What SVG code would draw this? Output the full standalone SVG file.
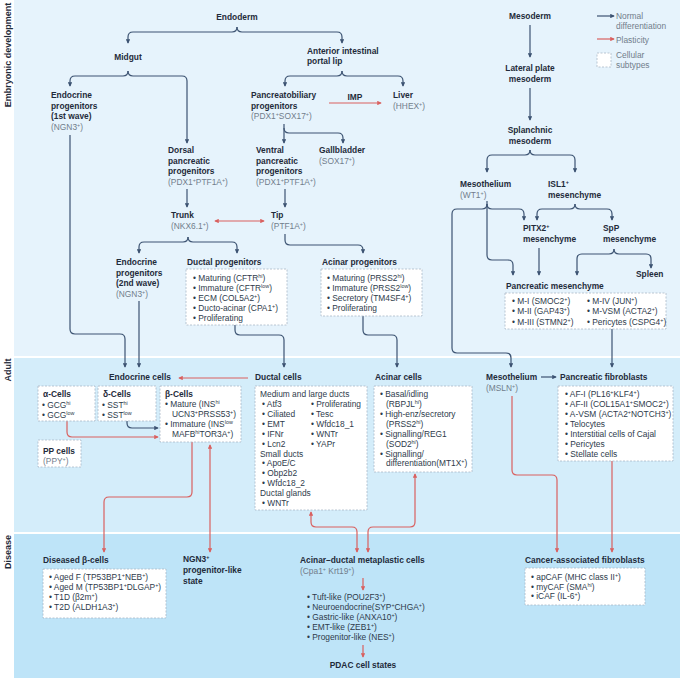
<svg xmlns="http://www.w3.org/2000/svg" width="680" height="678" viewBox="0 0 680 678">
<style>
text{font-family:"Liberation Sans",Arial,sans-serif}
.t{font-weight:700;font-size:8.4px;fill:#1f2b3a}
.g{font-size:8.4px;fill:#717d8b}
.i{font-size:8.4px;fill:#2e3b4b}
.lg{font-size:8.4px;fill:#717d8b}
.sec{font-weight:700;font-size:9px;fill:#1f2b3a;text-anchor:middle}
.sup{font-size:5.4px;baseline-shift:super}
.m{text-anchor:middle}
.c{fill:none;stroke:#3c5372;stroke-width:1.2;marker-end:url(#ad)}
.r{fill:none;stroke:#d9605f;stroke-width:1.2;marker-end:url(#ar)}
.b2{marker-start:url(#ar)}
.box{fill:#fff;stroke:#a9b8c7;stroke-width:0.8;stroke-dasharray:2 1.5}
</style>
<defs>
<marker id="ad" viewBox="0 0 6 6" refX="5" refY="3" markerWidth="4.5" markerHeight="4.5" orient="auto-start-reverse" markerUnits="userSpaceOnUse"><path d="M0,0 L6,3 L0,6 z" fill="#3c5372"/></marker>
<marker id="ar" viewBox="0 0 6 6" refX="5" refY="3" markerWidth="4.5" markerHeight="4.5" orient="auto-start-reverse" markerUnits="userSpaceOnUse"><path d="M0,0 L6,3 L0,6 z" fill="#d9605f"/></marker>
</defs>

<rect width="680" height="678" fill="#fff"/>
<rect x="14" y="0" width="666" height="356" fill="#e6f3fc"/>
<rect x="14" y="358" width="666" height="174" fill="#d4edfa"/>
<rect x="14" y="534" width="666" height="144" fill="#bee4f8"/>

<g id="section-labels">
<text class="sec" transform="translate(11,55) rotate(-90)">Embryonic development</text>
<text class="sec" transform="translate(11,370) rotate(-90)">Adult</text>
<text class="sec" transform="translate(11,552) rotate(-90)">Disease</text>
</g>

<g id="legend">
<path class="c" d="M597,16 H614"/>
<text class="lg" x="616" y="19">Normal</text>
<text class="lg" x="616" y="29">differentiation</text>
<path class="r" d="M597,39 H614"/>
<text class="lg" x="616" y="43">Plasticity</text>
<rect class="box" x="597" y="53" width="14" height="14"/>
<text class="lg" x="616" y="57.5">Cellular</text>
<text class="lg" x="616" y="67.5">subtypes</text>
</g>

<g id="connectors">
<path class="c" d="M237,27 Q237,32 232,32 H133 Q128,32 128,37 V43"/>
<path class="c" d="M237,27 Q237,32 242,32 H337 Q342,32 342,37 V43"/>
<path class="c" d="M128,71 Q128,76 123,76 H75 Q70,76 70,81 V86"/>
<path class="c" d="M128,71 Q128,76 133,76 H182 Q187,76 187,81 V143"/>
<path class="c" d="M342,71 Q342,76 337,76 H290 Q285,76 285,81 V86"/>
<path class="c" d="M342,71 Q342,76 347,76 H398 Q403,76 403,81 V86"/>
<path class="c" d="M284,124 V143"/>
<path class="c" d="M284,128 Q284,133 289,133 H338 Q343,133 343,138 V143"/>
<path class="c" d="M187,189 V207"/>
<path class="c" d="M285,189 V207"/>
<path class="c" d="M188,237 Q188,242 183,242 H144 Q139,242 139,247 V253"/>
<path class="c" d="M188,237 Q188,242 193,242 H232 Q237,242 237,247 V253"/>
<path class="c" d="M285,234 V240 Q285,245 290,245 H358 Q363,245 363,250 V253"/>
<path class="c" d="M70,135 V329 Q70,334 75,334 H120 Q125,334 125,339 V367"/>
<path class="c" d="M139,301 V367"/>
<path class="c" d="M235,325 V330 Q235,335 240,335 H279 Q284,335 284,340 V367"/>
<path class="c" d="M363,316 V330 Q363,335 368,335 H392 Q397,335 397,340 V367"/>
<path class="c" d="M530,25 V57"/>
<path class="c" d="M530,88 V120"/>
<path class="c" d="M530,150 Q530,155 525,155 H492 Q487,155 487,160 V172"/>
<path class="c" d="M530,150 Q530,155 535,155 H570 Q575,155 575,160 V172"/>
<path class="c" d="M487,201 V255 Q487,260 492,260 H508 Q513,260 513,265 V275"/>
<path class="c" d="M487,204 Q487,209 492,209 H519 Q524,209 524,214 V220"/>
<path class="c" d="M487,204 Q487,209 482,209 H457 Q452,209 452,214 V348 Q452,353 457,353 H506 Q511,353 511,358 V367"/>
<path class="c" d="M575,204 Q575,209 570,209 H542 Q537,209 537,214 V220"/>
<path class="c" d="M575,204 Q575,209 580,209 H607 Q612,209 612,214 V220"/>
<path class="c" d="M539,248 V275"/>
<path class="c" d="M614,249 Q614,254 609,254 H582 Q577,254 577,259 V275"/>
<path class="c" d="M614,249 Q614,254 619,254 H646 Q651,254 651,259 V268"/>
<path class="c" d="M612,329 V367"/>
<path class="c" d="M127,421 V423 Q127,428 132,428 H158"/>
<path class="c" d="M541,377 H556"/>
<path class="r" d="M329,103 H381"/>
<path class="r b2" d="M215,221 H264"/>
<path class="r" d="M248,378 H179"/>
<path class="r" d="M67,421 V432 Q67,437 72,437 H158"/>
<path class="r" d="M192,442 V492 Q192,497 187,497 H109 Q104,497 104,502 V552"/>
<path class="r b2" d="M210,445 V552"/>
<path class="r b2" d="M311,512 V522 Q311,527 316,527 H352 Q357,527 357,532 V552"/>
<path class="r b2" d="M415,474 V522 Q415,527 410,527 H373 Q368,527 368,532 V552"/>
<path class="r" d="M363,578 V590"/>
<path class="r" d="M363,645 V657"/>
<path class="r" d="M512,396 V470 Q512,475 517,475 H552 Q557,475 557,480 V552"/>
<path class="r" d="M612,461 V552"/>
</g>

<g id="endoderm"><text class="t m" x="237" y="20">Endoderm</text></g>
<g id="midgut"><text class="t m" x="128" y="60">Midgut</text></g>
<g id="anterior-intestinal-portal-lip"><text class="t" x="307" y="54">Anterior intestinal</text><text class="t" x="307" y="64">portal lip</text></g>
<g id="pancreatobiliary"><text class="t" x="251" y="98">Pancreatobiliary</text><text class="t" x="251" y="108.5">progenitors</text><text class="g" x="251" y="119">(PDX1<tspan class="sup">+</tspan>SOX17<tspan class="sup">+</tspan>)</text></g>
<g id="imp"><text class="t m" x="355" y="99.5">IMP</text></g>
<g id="liver"><text class="t" x="393" y="98">Liver</text><text class="g" x="393" y="108.5">(HHEX<tspan class="sup">+</tspan>)</text></g>
<g id="endocrine-1st"><text class="t" x="51" y="98">Endocrine</text><text class="t" x="51" y="108.5">progenitors</text><text class="t" x="51" y="119">(1st wave)</text><text class="g" x="51" y="129.5">(NGN3<tspan class="sup">+</tspan>)</text></g>
<g id="dorsal"><text class="t" x="168" y="153">Dorsal</text><text class="t" x="168" y="163.5">pancreatic</text><text class="t" x="168" y="174">progenitors</text><text class="g" x="168" y="184.5">(PDX1<tspan class="sup">+</tspan>PTF1A<tspan class="sup">+</tspan>)</text></g>
<g id="ventral"><text class="t" x="256" y="153">Ventral</text><text class="t" x="256" y="163.5">pancreatic</text><text class="t" x="256" y="174">progenitors</text><text class="g" x="256" y="184.5">(PDX1<tspan class="sup">+</tspan>PTF1A<tspan class="sup">+</tspan>)</text></g>
<g id="gallbladder"><text class="t" x="319" y="153">Gallbladder</text><text class="g" x="319" y="163.5">(SOX17<tspan class="sup">+</tspan>)</text></g>
<g id="trunk"><text class="t" x="171" y="218">Trunk</text><text class="g" x="171" y="228.5">(NKX6.1<tspan class="sup">+</tspan>)</text></g>
<g id="tip"><text class="t" x="271" y="218">Tip</text><text class="g" x="271" y="228.5">(PTF1A<tspan class="sup">+</tspan>)</text></g>
<g id="endocrine-2nd"><text class="t" x="116" y="265">Endocrine</text><text class="t" x="116" y="275.5">progenitors</text><text class="t" x="116" y="286">(2nd wave)</text><text class="g" x="116" y="296.5">(NGN3<tspan class="sup">+</tspan>)</text></g>
<g id="ductal-progenitors"><text class="t" x="187" y="265">Ductal progenitors</text><rect class="box" x="186" y="269" width="101" height="56"/>
<text class="i" x="193" y="281">• Maturing (CFTR<tspan class="sup">hi</tspan>)</text>
<text class="i" x="193" y="291">• Immature (CFTR<tspan class="sup">low</tspan>)</text>
<text class="i" x="193" y="301">• ECM (COL5A2<tspan class="sup">+</tspan>)</text>
<text class="i" x="193" y="311">• Ducto-acinar (CPA1<tspan class="sup">+</tspan>)</text>
<text class="i" x="193" y="320.5">• Proliferating</text></g>
<g id="acinar-progenitors"><text class="t" x="322" y="265">Acinar progenitors</text><rect class="box" x="321" y="269" width="101" height="47"/>
<text class="i" x="327" y="281">• Maturing (PRSS2<tspan class="sup">hi</tspan>)</text>
<text class="i" x="327" y="291">• Immature (PRSS2<tspan class="sup">low</tspan>)</text>
<text class="i" x="327" y="301">• Secretory (TM4SF4<tspan class="sup">+</tspan>)</text>
<text class="i" x="327" y="310.5">• Proliferating</text></g>

<g id="mesoderm"><text class="t m" x="530" y="19">Mesoderm</text></g>
<g id="lateral-plate"><text class="t m" x="530" y="71">Lateral plate</text><text class="t m" x="530" y="81.5">mesoderm</text></g>
<g id="splanchnic"><text class="t m" x="530" y="133">Splanchnic</text><text class="t m" x="530" y="143.5">mesoderm</text></g>
<g id="mesothelium-wt1"><text class="t" x="460" y="187">Mesothelium</text><text class="g" x="460" y="197.5">(WT1<tspan class="sup">+</tspan>)</text></g>
<g id="isl1"><text class="t" x="548" y="187">ISL1<tspan class="sup">+</tspan></text><text class="t" x="548" y="197.5">mesenchyme</text></g>
<g id="pitx2"><text class="t" x="523" y="231">PITX2<tspan class="sup">+</tspan></text><text class="t" x="523" y="242">mesenchyme</text></g>
<g id="spp"><text class="t" x="603" y="231">SpP</text><text class="t" x="603" y="242">mesenchyme</text></g>
<g id="spleen"><text class="t" x="636" y="277">Spleen</text></g>
<g id="pancreatic-mesenchyme"><text class="t" x="506" y="289">Pancreatic mesenchyme</text><rect class="box" x="505" y="293" width="161" height="36"/>
<text class="i" x="512" y="304">• M-I (SMOC2<tspan class="sup">+</tspan>)</text>
<text class="i" x="512" y="314">• M-II (GAP43<tspan class="sup">+</tspan>)</text>
<text class="i" x="512" y="324.5">• M-III (STMN2<tspan class="sup">+</tspan>)</text>
<text class="i" x="587" y="304">• M-IV (JUN<tspan class="sup">+</tspan>)</text>
<text class="i" x="587" y="314">• M-VSM (ACTA2<tspan class="sup">+</tspan>)</text>
<text class="i" x="587" y="324.5">• Pericytes (CSPG4<tspan class="sup">+</tspan>)</text></g>

<g id="endocrine-cells"><text class="t" x="109" y="380">Endocrine cells</text></g>
<g id="alpha-cells"><rect class="box" x="38" y="386" width="57" height="35"/><text class="t" x="43" y="397">α-Cells</text>
<text class="i" x="42" y="408">• GCG<tspan class="sup">hi</tspan></text><text class="i" x="42" y="418">• GCG<tspan class="sup">low</tspan></text></g>
<g id="delta-cells"><rect class="box" x="98" y="386" width="58" height="35"/><text class="t" x="103" y="397">δ-Cells</text>
<text class="i" x="102" y="408">• SST<tspan class="sup">hi</tspan></text><text class="i" x="102" y="418">• SST<tspan class="sup">low</tspan></text></g>
<g id="beta-cells"><rect class="box" x="160" y="386" width="81" height="56"/><text class="t" x="165" y="397">β-Cells</text>
<text class="i" x="165" y="407">• Mature (INS<tspan class="sup">hi</tspan></text>
<text class="i" x="172" y="417">UCN3<tspan class="sup">+</tspan>PRSS53<tspan class="sup">+</tspan>)</text>
<text class="i" x="165" y="427">• Immature (INS<tspan class="sup">low</tspan></text>
<text class="i" x="172" y="436.5">MAFB<tspan class="sup">hi</tspan>TOR3A<tspan class="sup">+</tspan>)</text></g>
<g id="pp-cells"><rect class="box" x="38" y="440" width="43" height="27"/><text class="t" x="43" y="454">PP cells</text><text class="g" x="43" y="464">(PPY<tspan class="sup">+</tspan>)</text></g>

<g id="ductal-cells"><text class="t" x="255" y="380">Ductal cells</text><rect class="box" x="255" y="386" width="112" height="124"/>
<text class="i" x="260" y="397">Medium and large ducts</text>
<text class="i" x="262" y="407">• Atf3</text><text class="i" x="262" y="417">• Ciliated</text><text class="i" x="262" y="427">• EMT</text><text class="i" x="262" y="437">• IFNr</text><text class="i" x="262" y="447">• Lcn2</text>
<text class="i" x="311" y="407">• Proliferating</text><text class="i" x="311" y="417">• Tesc</text><text class="i" x="311" y="427">• Wfdc18_1</text><text class="i" x="311" y="437">• WNTr</text><text class="i" x="311" y="447">• YAPr</text>
<text class="i" x="260" y="456.5">Small ducts</text>
<text class="i" x="262" y="466">• ApoE/C</text><text class="i" x="262" y="476">• Obp2b2</text><text class="i" x="262" y="486">• Wfdc18_2</text>
<text class="i" x="260" y="495.5">Ductal glands</text>
<text class="i" x="262" y="505.5">• WNTr</text></g>

<g id="acinar-cells"><text class="t" x="375" y="380">Acinar cells</text><rect class="box" x="374" y="386" width="98" height="86"/>
<text class="i" x="380" y="397">• Basal/idling</text>
<text class="i" x="386" y="407">(RBPJL<tspan class="sup">hi</tspan>)</text>
<text class="i" x="380" y="417">• High-enz/secretory</text>
<text class="i" x="386" y="427">(PRSS2<tspan class="sup">hi</tspan>)</text>
<text class="i" x="380" y="437">• Signalling/REG1</text>
<text class="i" x="386" y="447">(SOD2<tspan class="sup">hi</tspan>)</text>
<text class="i" x="380" y="456.5">• Signalling/</text>
<text class="i" x="386" y="466">differentiation(MT1X<tspan class="sup">+</tspan>)</text></g>

<g id="mesothelium-msln"><text class="t" x="486" y="380">Mesothelium</text><text class="g" x="486" y="390.5">(MSLN<tspan class="sup">+</tspan>)</text></g>
<g id="pancreatic-fibroblasts"><text class="t" x="560" y="380">Pancreatic fibroblasts</text><rect class="box" x="558" y="386" width="115" height="75"/>
<text class="i" x="565" y="397">• AF-I (PL16<tspan class="sup">+</tspan>KLF4<tspan class="sup">+</tspan>)</text>
<text class="i" x="565" y="407">• AF-II (COL15A1<tspan class="sup">+</tspan>SMOC2<tspan class="sup">+</tspan>)</text>
<text class="i" x="565" y="417">• A-VSM (ACTA2<tspan class="sup">+</tspan>NOTCH3<tspan class="sup">+</tspan>)</text>
<text class="i" x="565" y="427">• Telocytes</text>
<text class="i" x="565" y="437">• Interstitial cells of Cajal</text>
<text class="i" x="565" y="447">• Pericytes</text>
<text class="i" x="565" y="456.5">• Stellate cells</text></g>

<g id="diseased-beta"><text class="t" x="43" y="563">Diseased β-cells</text><rect class="box" x="43" y="569" width="123" height="49"/>
<text class="i" x="49" y="580">• Aged F (TP53BP1<tspan class="sup">+</tspan>NEB<tspan class="sup">+</tspan>)</text>
<text class="i" x="49" y="590">• Aged M (TP53BP1<tspan class="sup">+</tspan>DLGAP<tspan class="sup">+</tspan>)</text>
<text class="i" x="49" y="600">• T1D (β2m<tspan class="sup">+</tspan>)</text>
<text class="i" x="49" y="610">• T2D (ALDH1A3<tspan class="sup">+</tspan>)</text></g>
<g id="ngn3-state"><text class="t" x="183" y="562">NGN3<tspan class="sup">+</tspan></text><text class="t" x="183" y="573">progenitor-like</text><text class="t" x="183" y="584">state</text></g>
<g id="adm"><text class="t" x="300" y="563">Acinar–ductal metaplastic cells</text><text class="g" x="300" y="573.5">(Cpa1<tspan class="sup">+</tspan> Krt19<tspan class="sup">+</tspan>)</text></g>
<g id="adm-subtypes">
<text class="i" x="307" y="600">• Tuft-like (POU2F3<tspan class="sup">+</tspan>)</text>
<text class="i" x="307" y="610">• Neuroendocrine(SYP<tspan class="sup">+</tspan>CHGA<tspan class="sup">+</tspan>)</text>
<text class="i" x="307" y="620">• Gastric-like (ANXA10<tspan class="sup">+</tspan>)</text>
<text class="i" x="307" y="630">• EMT-like (ZEB1<tspan class="sup">+</tspan>)</text>
<text class="i" x="307" y="640">• Progenitor-like (NES<tspan class="sup">+</tspan>)</text></g>
<g id="pdac"><text class="t m" x="363" y="668">PDAC cell states</text></g>
<g id="caf"><text class="t" x="525" y="563">Cancer-associated fibroblasts</text><rect class="box" x="525" y="568" width="120" height="37"/>
<text class="i" x="531" y="580">• apCAF (MHC class II<tspan class="sup">+</tspan>)</text>
<text class="i" x="531" y="589.5">• myCAF (SMA<tspan class="sup">hi</tspan>)</text>
<text class="i" x="531" y="599">• iCAF (IL-6<tspan class="sup">+</tspan>)</text></g>
</svg>
